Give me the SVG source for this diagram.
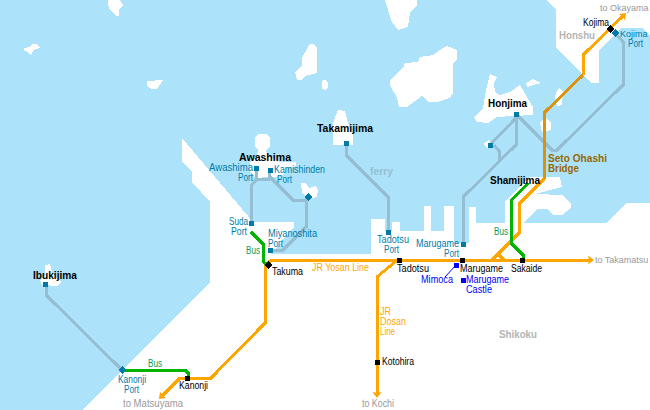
<svg xmlns="http://www.w3.org/2000/svg" width="650" height="410" viewBox="0 0 650 410">
<style>
text{font-family:"Liberation Sans",Arial,sans-serif;font-size:10px}
.b{font-weight:bold;font-size:10.5px}
.n{font-size:9px}
.br{font-weight:bold;font-size:10px;fill:#996600}
.k{fill:#000}.t{fill:#007ba7}.g{fill:#999}.o{fill:#ffa500}.bl{fill:#0000ff}.gr{fill:#009e60}
.land{fill:#fff;shape-rendering:crispEdges}
.ln{fill:none;stroke-width:3;stroke-linejoin:miter;shape-rendering:crispEdges}
.f{stroke:#96bed2}.or{stroke:#ffa500}.dk{stroke:#de9209}.gn{stroke:#00b400}
.s{fill:#000;shape-rendering:crispEdges}.p{fill:#007ba7;shape-rendering:crispEdges}.m{fill:#0000ff;shape-rendering:crispEdges}
</style>
<defs>
<marker id="arr" markerUnits="userSpaceOnUse" viewBox="0 0 6 9" refX="2" refY="4.5" markerWidth="6" markerHeight="9" orient="auto"><path d="M0 0L6 4.5L0 9L1 4.5Z" fill="#ffa500"/></marker>
</defs>
<rect width="650" height="410" fill="#ace3fa"/>
<g id="land">
<polygon class="land" points="82,410 210,282 210,202 192,182 192,172 182,162 182,138 253,222 294,222 294,227 271,254 371,254 371,219 385,219 385,231 392,231 392,222 400,222 400,231 424,231 424,206 431,206 431,231 444,231 444,206 454,206 454,243 469,243 469,207 476,207 476,223 505,223 505,202 513,193 530,177 560,177 562,187 535,194 562,195 571,203 571,208 562,215 553,215 547,209 537,209 523,223 606,223 626,203 650,203 650,410"/>
<polygon class="land" points="547,0 556,10 556,48 592,83 599,83 599,50 617,32 622,28 642,28 650,35 650,0"/>
<polygon class="land" points="108,0 120,0 123,5 119,10 119,16 116,16 110,10 108,5"/>
<polygon class="land" points="24,48 30,47 32,44 37,44 40,48 33,50 32,55 29,54 27,51 24,51"/>
<polygon class="land" points="147,81 163,80 157,89 152,89 147,86"/>
<polygon class="land" points="310,44 313,44 317,48 317,73 305,76 302,80 297,80 295,72 302,65 302,58 308,47"/>
<polygon class="land" points="258,134 267,134 270,138 270,146 266,150 268,156 280,162 296,162 296,166 286,168 284,174 276,177 262,177 258,181 254,176 250,172 250,162 257,157 258,150 255,146 255,138"/>
<polygon class="land" points="301,183 306,183 309,188 316,186 318,190 317,197 308,199 302,193"/>
<polygon class="land" points="338,110 345,111 348,123 353,135 353,145 333,145 333,123"/>
<polygon class="land" points="447,46 457,50 457,60 453,63 453,93 450,98 437,102 428,102 422,96 407,107 399,107 397,98 390,85 390,80 403,68 405,63 418,62 420,57 433,55 443,48"/>
<polygon class="land" points="385,0 417,0 417,5 410,13 408,27 398,30 392,22 388,10"/>
<ellipse class="land" cx="325" cy="85" rx="3.5" ry="5"/>
<polygon class="land" points="490,74 497,77 494,83 495,92 500,95 510,92 520,85 527,97 533,107 533,115 513,116 497,117 488,123 477,122 474,117 483,108 486,90 488,82"/>
<polygon class="land" points="526,83 533,79 541,83 533,85 527,87"/>
<polygon class="land" points="557,90 560,88 563,92 562,105 557,106 555,97"/>
<polygon class="land" points="540,122 545,117 551,122 551,130 542,132"/>
<polygon class="land" points="483,144 489,140 493,147 487,148"/>
<polygon class="land" points="45,265 50,264 53,275 62,282 57,286 42,285 40,280 45,275"/>
</g>
<g id="connectors">
<polyline class="ln f" points="46,285 46,295 122,370"/>
<polyline class="ln f" points="256,168 256,180 251,186 251,223"/>
<polyline class="ln f" points="256,179 269,179 270,170"/>
<polyline class="ln f" points="270,177 293,200 306,200 308,197"/>
<polyline class="ln f" points="306,200 306,227 283,250 271,250"/>
<polyline class="ln f" points="346,143 346,155 388,197 388,232"/>
<polyline class="ln f" points="516,114 516,145 463,197 463,244"/>
<polyline class="ln f" points="516,118 490,145"/>
<polyline class="ln f" points="494,145 499,151 499,162"/>
<polyline class="ln f" points="516,114 552,150 557,150 623,85 623,42 615,33"/>
<polyline class="ln or" points="270,260 590,260" marker-end="url(#arr)"/>
<polyline class="ln or" points="270,261 265,266 265,323 211,378 180,378 161.8,396.2" marker-end="url(#arr)"/>
<polyline class="ln or" points="396,261 377,277 377,394" marker-end="url(#arr)"/>
<polyline class="ln or" points="492,260 519,233 519,204 544,179"/>
<polyline class="ln or" points="498,254 504,260"/>
<polyline class="ln dk" points="544,179 544,113 583,75"/>
<polyline class="ln or" points="583,75 583,55 623.2,15.8" marker-end="url(#arr)"/>
<polyline class="ln gn" points="251,232 263,244 263,262 268,265"/>
<polyline class="ln gn" points="122,370 185,370 188,373 188,378"/>
<polyline class="ln gn" points="528,183 511,201 511,243 523,255 523,260"/>
<line x1="456" y1="265" x2="445" y2="277" stroke="#0000ff" stroke-width="1"/>
</g>
<g id="Ibukijima"><rect class="p" x="43" y="282" width="5" height="5"/><text class="b k" x="33" y="279" textLength="44" lengthAdjust="spacingAndGlyphs">Ibukijima</text></g>
<g id="KanonjiPort"><path class="p" d="M122 366L126 370L122 374L118 370Z"/><text class="t" x="118" y="383" textLength="28" lengthAdjust="spacingAndGlyphs">Kanonji</text><text class="t" x="124" y="393" textLength="15" lengthAdjust="spacingAndGlyphs">Port</text></g>
<g id="Kanonji"><rect class="s" x="185" y="376" width="5" height="5"/><text class="k" x="179" y="389" textLength="29" lengthAdjust="spacingAndGlyphs">Kanonji</text></g>
<g id="Takuma"><path class="s" d="M268 261L272 265L268 269L264 265Z"/><text class="k" x="272" y="275" textLength="31" lengthAdjust="spacingAndGlyphs">Takuma</text></g>
<g id="SudaPort"><rect class="p" x="249" y="221" width="5" height="5"/><text class="t" x="229" y="225" textLength="19" lengthAdjust="spacingAndGlyphs">Suda</text><text class="t" x="231" y="235" textLength="16" lengthAdjust="spacingAndGlyphs">Port</text></g>
<g id="AwashimaPort"><rect class="p" x="254" y="166" width="5" height="5"/><text class="t" x="209" y="171" textLength="44" lengthAdjust="spacingAndGlyphs">Awashima</text><text class="t" x="238" y="181" textLength="15" lengthAdjust="spacingAndGlyphs">Port</text></g>
<g id="Awashima"><text class="b k" x="239" y="161" textLength="52" lengthAdjust="spacingAndGlyphs">Awashima</text></g>
<g id="KamishindenPort"><rect class="p" x="268" y="168" width="5" height="5"/><text class="t" x="274" y="173" textLength="51" lengthAdjust="spacingAndGlyphs">Kamishinden</text><text class="t" x="277" y="183" textLength="15" lengthAdjust="spacingAndGlyphs">Port</text></g>
<g id="SmallIslandPort"><path class="p" d="M308 193L312 197L308 201L304 197Z"/></g>
<g id="MiyanoshitaPort"><rect class="p" x="268" y="248" width="5" height="5"/><text class="t" x="268" y="237" textLength="49" lengthAdjust="spacingAndGlyphs">Miyanoshita</text><text class="t" x="268" y="247" textLength="15" lengthAdjust="spacingAndGlyphs">Port</text></g>
<g id="Takamijima"><rect class="p" x="344" y="141" width="5" height="5"/><text class="b k" x="317" y="132" textLength="56" lengthAdjust="spacingAndGlyphs">Takamijima</text></g>
<g id="TadotsuPort"><rect class="p" x="386" y="230" width="5" height="5"/><text class="t" x="377" y="243" textLength="32" lengthAdjust="spacingAndGlyphs">Tadotsu</text><text class="t" x="384" y="253" textLength="15" lengthAdjust="spacingAndGlyphs">Port</text></g>
<g id="Tadotsu"><rect class="s" x="397" y="258" width="5" height="5"/><text class="k" x="397" y="272" textLength="32" lengthAdjust="spacingAndGlyphs">Tadotsu</text></g>
<g id="Kotohira"><rect class="s" x="375" y="360" width="5" height="5"/><text class="k" x="382" y="365" textLength="32" lengthAdjust="spacingAndGlyphs">Kotohira</text></g>
<g id="MarugamePort"><rect class="p" x="461" y="242" width="5" height="5"/><text class="t" x="416" y="247" textLength="43" lengthAdjust="spacingAndGlyphs">Marugame</text><text class="t" x="444" y="257" textLength="15" lengthAdjust="spacingAndGlyphs">Port</text></g>
<g id="Marugame"><rect class="s" x="460" y="258" width="5" height="5"/><text class="k" x="460" y="272" textLength="43" lengthAdjust="spacingAndGlyphs">Marugame</text></g>
<g id="Mimoca"><rect class="m" x="454" y="263" width="5" height="5"/><text class="bl" x="421" y="283" textLength="32" lengthAdjust="spacingAndGlyphs">Mimoca</text></g>
<g id="MarugameCastle"><rect class="m" x="461" y="278" width="5" height="5"/><text class="bl" x="466" y="283" textLength="43" lengthAdjust="spacingAndGlyphs">Marugame</text><text class="bl" x="466" y="293" textLength="26" lengthAdjust="spacingAndGlyphs">Castle</text></g>
<g id="Sakaide"><rect class="s" x="520" y="258" width="5" height="5"/><text class="k" x="511" y="272" textLength="31" lengthAdjust="spacingAndGlyphs">Sakaide</text></g>
<g id="Shamijima"><text class="b k" x="490" y="184" textLength="50" lengthAdjust="spacingAndGlyphs">Shamijima</text></g>
<g id="Honjima"><rect class="p" x="514" y="112" width="5" height="5"/><text class="b k" x="488" y="107" textLength="39" lengthAdjust="spacingAndGlyphs">Honjima</text></g>
<g id="HonjimaSmallPort"><rect class="p" x="488" y="143" width="5" height="5"/></g>
<g id="Kojima"><path class="s" d="M610 25L614 29L610 33L606 29Z"/><text class="k" x="583" y="26" textLength="26" lengthAdjust="spacingAndGlyphs">Kojima</text></g>
<g id="KojimaPort"><path class="p" d="M615 29L619 33L615 37L611 33Z"/><text class="t n" x="620" y="37">Kojima</text><text class="t" x="628" y="47" textLength="15" lengthAdjust="spacingAndGlyphs">Port</text></g>
<g id="labels">
<text class="br" x="548" y="162" textLength="59" lengthAdjust="spacingAndGlyphs">Seto Ohashi</text>
<text class="br" x="548" y="172" textLength="31" lengthAdjust="spacingAndGlyphs">Bridge</text>
<text class="b" x="559" y="39" fill="#b4b4b4" textLength="36" lengthAdjust="spacingAndGlyphs">Honshu</text>
<text class="b" x="499" y="338" fill="#b4b4b4" textLength="38" lengthAdjust="spacingAndGlyphs">Shikoku</text>
<text class="b" x="370" y="175" fill="#96bed2" textLength="23" lengthAdjust="spacingAndGlyphs">ferry</text>
<text class="o" x="312" y="271" textLength="57" lengthAdjust="spacingAndGlyphs">JR Yosan Line</text>
<text class="o" x="380" y="315" textLength="11" lengthAdjust="spacingAndGlyphs">JR</text>
<text class="o" x="380" y="325" textLength="26" lengthAdjust="spacingAndGlyphs">Dosan</text>
<text class="o" x="380" y="335" textLength="15" lengthAdjust="spacingAndGlyphs">Line</text>
<text class="gr" x="246" y="254" textLength="14" lengthAdjust="spacingAndGlyphs">Bus</text>
<text class="gr" x="494" y="235" textLength="14" lengthAdjust="spacingAndGlyphs">Bus</text>
<text class="gr" x="148" y="367" textLength="14" lengthAdjust="spacingAndGlyphs">Bus</text>
<text class="g n" x="595" y="263">to Takamatsu</text>
<text class="g n" x="600" y="11">to Okayama</text>
<text class="g" x="362" y="407" textLength="32" lengthAdjust="spacingAndGlyphs">to Kochi</text>
<text class="g" x="123" y="407" textLength="60" lengthAdjust="spacingAndGlyphs">to Matsuyama</text>
</g>
</svg>
